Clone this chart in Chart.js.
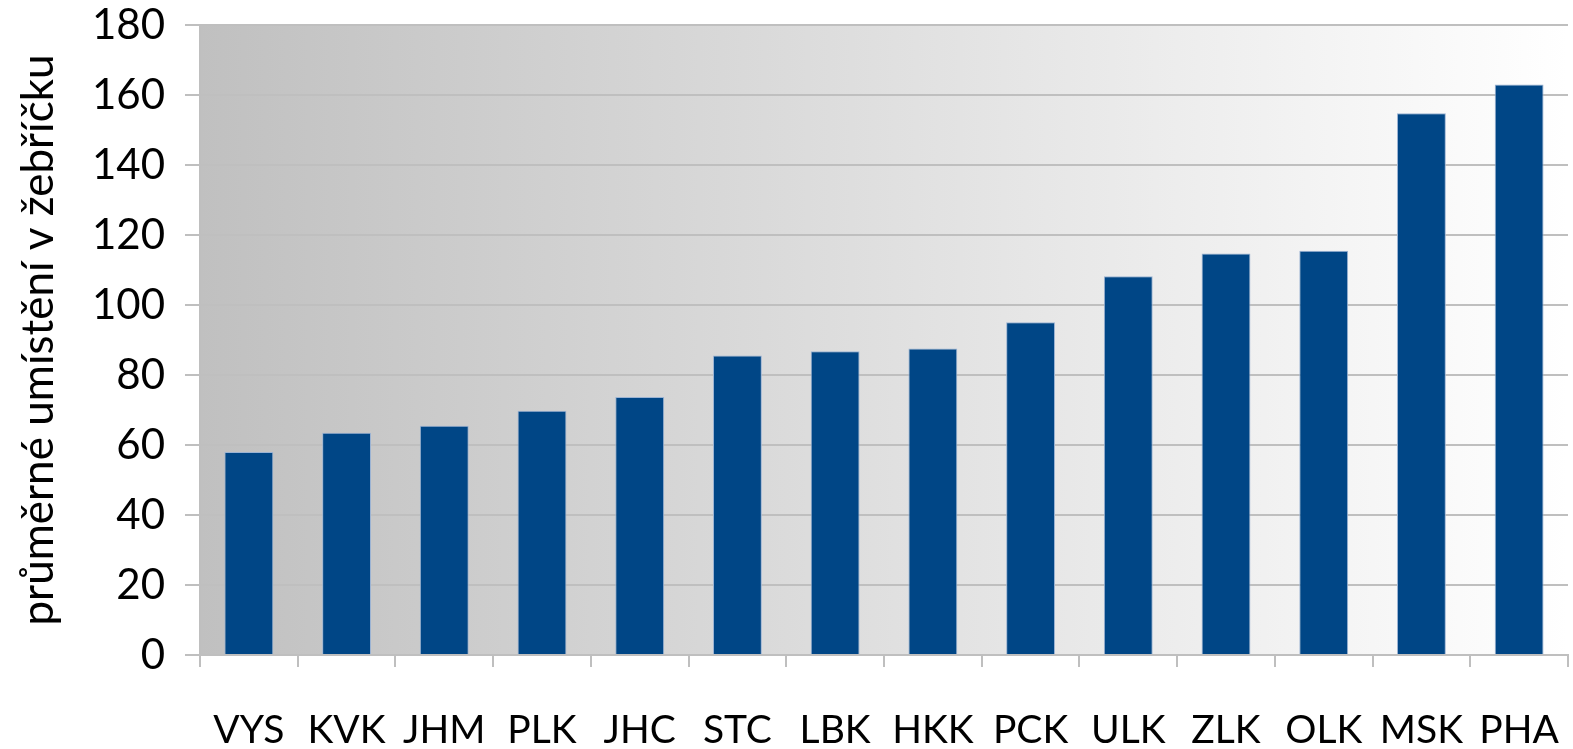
<!DOCTYPE html>
<html>
<head>
<meta charset="utf-8">
<script src="https://cdn.jsdelivr.net/npm/chart.js@4/dist/chart.umd.min.js"></script>
<style>
html,body{margin:0;padding:0;background:#fff;}
#wrap{width:1573px;height:749px;}
</style>
</head>
<body>
<div id="wrap"><canvas id="c" width="1573" height="749"></canvas></div>
<script>
const categories = ["VYS","KVK","JHM","PLK","JHC","STC","LBK","HKK","PCK","ULK","ZLK","OLK","MSK","PHA"];
const values = [58, 63.5, 65.5, 69.8, 73.7, 85.6, 86.8, 87.6, 95.1, 108.2, 114.7, 115.5, 154.8, 163];
const yTicks = [0,20,40,60,80,100,120,140,160,180];
const yTitle = "průměrné umístění v žebříčku";

const bgPlugin = {
  id: 'bg',
  beforeDraw(chart){
    const {ctx, chartArea:a} = chart;
    const g = ctx.createLinearGradient(a.left,0,a.right,0);
    g.addColorStop(0,'#c0c0c0');
    g.addColorStop(1,'#ffffff');
    ctx.save();
    ctx.fillStyle = g;
    ctx.fillRect(a.left, a.top, a.right-a.left, a.bottom-a.top);
    ctx.restore();
  }
};

new Chart(document.getElementById('c'), {
  type: 'bar',
  data: {
    labels: categories,
    datasets: [{
      data: values,
      backgroundColor: '#004686',
      borderColor: '#9bb3d3',
      borderWidth: 1,
      barPercentage: 0.5,
      categoryPercentage: 1.0
    }]
  },
  options: {
    responsive: false,
    animation: false,
    devicePixelRatio: 1,
    layout: { padding: { top: 25, right: 5, left: 0, bottom: 0 } },
    plugins: { legend: { display: false }, tooltip: { enabled: false } },
    scales: {
      x: {
        offset: true,
        grid: { display: true, drawOnChartArea: false, drawTicks: true, tickLength: 12, color: '#bfbfbf', lineWidth: 2, offset: true },
        border: { display: true, color: '#bfbfbf', width: 2 },
        ticks: { color: '#000', font: { family: 'Lato', size: 39 }, padding: 40, maxRotation: 0, autoSkip: false },
        afterFit(s){ s.height = 94; s.paddingLeft = 0; s.paddingRight = 0; }
      },
      y: {
        min: 0, max: 180,
        afterBuildTicks(s){ s.ticks = yTicks.map(v => ({value: v})); },
        grid: { color: '#bfbfbf', lineWidth: 2, drawTicks: true, tickLength: 15 },
        border: { display: true, color: '#bfbfbf', width: 2 },
        ticks: { color: '#000', font: { family: 'Lato', size: 42 }, padding: 20 },
        title: { display: true, text: yTitle, color: '#000', font: { family: 'Lato', size: 44 }, padding: { top: 12, bottom: 0 } },
        afterFit(s){ s.width = 200; s.paddingTop = 0; s.paddingBottom = 0; }
      }
    }
  },
  plugins: [bgPlugin]
});
</script>
</body>
</html>
